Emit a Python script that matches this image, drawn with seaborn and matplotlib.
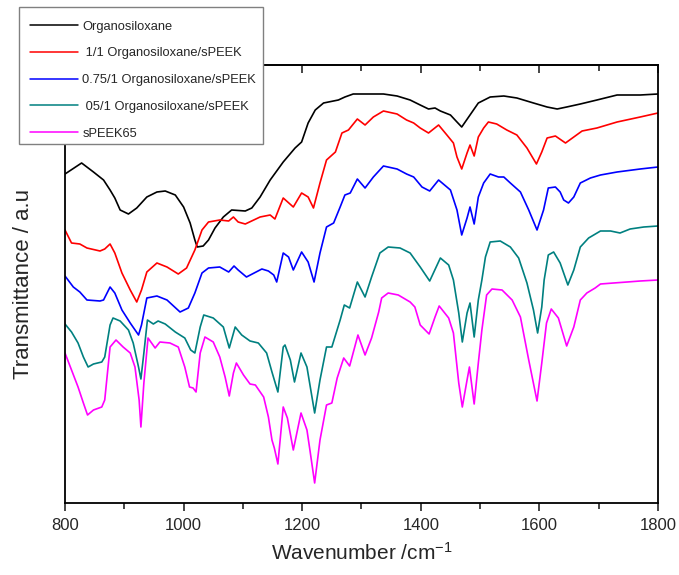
import numpy as np
import pandas as pd
import matplotlib
matplotlib.use("Agg")
import matplotlib.pyplot as plt
from matplotlib.ticker import MultipleLocator
from matplotlib.patches import Rectangle
import seaborn as sns

labels = ["Organosiloxane", " 1/1 Organosiloxane/sPEEK", "0.75/1 Organosiloxane/sPEEK",
          " 05/1 Organosiloxane/sPEEK", "sPEEK65"]
colors = ["#000000", "#FF0000", "#0000FF", "#008080", "#FF00FF"]

wn_organo = [800, 828, 848, 865, 876, 884, 893, 907, 921, 938, 955, 969, 986, 1000, 1011, 1019, 1023, 1033,
             1042, 1053, 1067, 1081, 1104, 1115, 1129, 1146, 1168, 1188, 1199, 1210, 1222, 1236, 1261, 1272,
             1286, 1315, 1337, 1360, 1382, 1399, 1413, 1424, 1433, 1450, 1461, 1469, 1483, 1497, 1517, 1540,
             1562, 1590, 1613, 1630, 1646, 1669, 1697, 1731, 1770, 1800]
t_organo = [329, 340, 331, 323, 313, 305, 293, 289, 295, 306, 311, 312, 308, 296, 280, 263, 256, 257,
            263, 275, 286, 293, 292, 295, 306, 323, 341, 355, 361, 380, 393, 400, 403, 406,
            409, 409, 409, 407, 403, 398, 394, 395, 392, 388, 381, 376, 388, 400, 406, 407,
            405, 400, 396, 394, 396, 399, 403, 408, 408, 409]

wn_11 = [800, 811, 825, 837, 859, 867, 876, 884, 896, 910, 921, 929, 938, 955, 972, 991, 1005, 1019, 1031,
         1042, 1061, 1076, 1084, 1092, 1104, 1129, 1146, 1154, 1168, 1185, 1199, 1210, 1219, 1230, 1241,
         1256, 1267, 1278, 1293, 1306, 1320, 1337, 1360, 1376, 1388, 1399, 1413, 1430, 1444, 1455, 1461,
         1469, 1478, 1483, 1490, 1497, 1506, 1514, 1528, 1545, 1562, 1579, 1595, 1604, 1613, 1627, 1644,
         1658, 1672, 1697, 1731, 1770, 1800]
t_11 = [273, 260, 259, 255, 252, 254, 259, 250, 230, 213, 201, 213, 231, 240, 236, 229, 235, 253, 273,
        281, 283, 282, 286, 281, 279, 286, 288, 284, 305, 296, 310, 306, 295, 320, 343,
        351, 370, 373, 384, 378, 386, 392, 389, 383, 380, 375, 370, 378, 368, 360, 346,
        334, 350, 358, 347, 366, 375, 381, 379, 373, 368, 355, 339, 351, 365, 367, 360,
        366, 372, 375, 381, 386, 390]

wn_075 = [800, 814, 825, 837, 859, 865, 876, 884, 896, 910, 924, 929, 938, 955, 972, 994, 1008, 1019, 1031,
          1042, 1061, 1076, 1085, 1092, 1106, 1132, 1143, 1152, 1157, 1168, 1177, 1185, 1199, 1210, 1220,
          1230, 1241, 1253, 1264, 1272, 1281, 1293, 1306, 1320, 1337, 1360, 1376, 1388, 1402, 1415, 1430,
          1450, 1461, 1469, 1478, 1483, 1490, 1497, 1506, 1517, 1531, 1540, 1551, 1568, 1582, 1596, 1607,
          1615, 1627, 1635, 1641, 1649, 1658, 1669, 1686, 1703, 1731, 1770, 1800]
t_075 = [227, 216, 211, 203, 202, 203, 216, 210, 193, 180, 168, 178, 205, 207, 203, 191, 195, 210, 230,
         235, 236, 231, 237, 233, 226, 234, 232, 228, 221, 250, 246, 233, 251, 241, 221,
         250, 276, 280, 296, 308, 310, 324, 315, 326, 337, 334, 329, 326, 316, 312, 323,
         313, 293, 268, 285, 296, 279, 306, 320, 329, 326, 326, 320, 311, 293, 273, 293,
         315, 316, 311, 303, 300, 306, 320, 325, 328, 331, 334, 336]

wn_05 = [800, 811, 822, 831, 839, 848, 862, 867, 876, 881, 893, 907, 915, 924, 928, 933, 939, 949, 957,
         969, 986, 1002, 1012, 1019, 1028, 1034, 1050, 1067, 1077, 1087, 1098, 1112, 1126, 1140, 1149,
         1159, 1168, 1171, 1180, 1187, 1198, 1208, 1221, 1230, 1241, 1250, 1264, 1271, 1280, 1293, 1306,
         1317, 1331, 1345, 1365, 1382, 1399, 1415, 1433, 1447, 1455, 1464, 1470, 1478, 1483, 1490, 1497,
         1503, 1509, 1517, 1534, 1551, 1565, 1579, 1590, 1597, 1604, 1608, 1615, 1624, 1635, 1648, 1658,
         1669, 1683, 1703, 1720, 1736, 1753, 1776, 1800]
t_05 = [179, 171, 160, 146, 136, 139, 141, 146, 178, 185, 182, 173, 160, 136, 124, 150, 183, 179, 182,
        179, 171, 165, 153, 150, 176, 188, 185, 176, 155, 176, 168, 162, 160, 150, 131,
        111, 156, 158, 143, 121, 150, 136, 90, 123, 156, 156, 183, 198, 195, 221, 206,
        226, 250, 256, 255, 250, 236, 222, 245, 238, 223, 190, 161, 190, 200, 166, 203,
        223, 246, 261, 262, 256, 245, 220, 193, 170, 196, 223, 248, 251, 240, 218, 233,
        256, 265, 272, 272, 270, 274, 276, 277]

wn_speek = [800, 811, 822, 831, 838, 848, 862, 867, 876, 886, 898, 910, 918, 925, 928, 933, 940, 952, 960,
            977, 991, 1002, 1010, 1016, 1021, 1028, 1036, 1050, 1061, 1070, 1077, 1084, 1089, 1101, 1112,
            1121, 1135, 1143, 1149, 1153, 1159, 1168, 1175, 1185, 1198, 1208, 1213, 1221, 1230, 1241, 1250,
            1259, 1270, 1280, 1294, 1306, 1317, 1329, 1334, 1345, 1362, 1382, 1390, 1399, 1414, 1424, 1431,
            1447, 1455, 1464, 1470, 1478, 1482, 1490, 1497, 1503, 1511, 1520, 1537, 1554, 1568, 1582, 1596,
            1604, 1612, 1620, 1632, 1646, 1658, 1669, 1680, 1694, 1703, 1725, 1748, 1770, 1800]
t_speek = [150, 133, 116, 100, 88, 93, 96, 103, 156, 163, 156, 150, 136, 103, 76, 120, 165, 155, 161,
           160, 156, 136, 116, 115, 111, 150, 166, 161, 146, 126, 107, 130, 140, 128, 119,
           118, 106, 86, 63, 55, 39, 96, 85, 53, 90, 73, 53, 20, 63, 98, 100,
           125, 145, 137, 168, 148, 165, 191, 205, 210, 208, 201, 196, 178, 169, 186, 197,
           185, 170, 120, 96, 123, 136, 99, 140, 173, 208, 214, 213, 203, 186, 143, 102,
           140, 180, 194, 185, 157, 176, 203, 210, 215, 219, 220, 221, 222, 223]

series = [(wn_organo, t_organo), (wn_11, t_11), (wn_075, t_075), (wn_05, t_05), (wn_speek, t_speek)]
frames = []
for lab, (w, t) in zip(labels, series):
    frames.append(pd.DataFrame({"wavenumber": w, "transmittance": t, "sample": lab}))
df = pd.concat(frames, ignore_index=True)

sns.set_style("ticks")
plt.rcParams["font.family"] = ["Liberation Sans", "DejaVu Sans"]
plt.rcParams["mathtext.fontset"] = "custom"
plt.rcParams["mathtext.rm"] = "Liberation Sans"
plt.rcParams["mathtext.it"] = "Liberation Sans"
plt.rcParams["mathtext.default"] = "regular"

W, H = 679, 575
fig = plt.figure(figsize=(W / 100, H / 100), dpi=100)
ax = fig.add_axes([65 / W, 72 / H, 593 / W, 438 / H])

sns.lineplot(data=df, x="wavenumber", y="transmittance", hue="sample", hue_order=labels,
             palette=colors, estimator=None, sort=False, linewidth=1.2, ax=ax, legend=False)

ax.set_xlim(800, 1800)
ax.set_ylim(0, 438)
ax.xaxis.set_major_locator(MultipleLocator(200))
ax.xaxis.set_minor_locator(MultipleLocator(100))
ax.set_yticks([])
ax.tick_params(axis="x", which="major", direction="out", length=6, width=1.2, labelsize=12, pad=5)
ax.tick_params(axis="x", which="minor", direction="out", length=4, width=1.2)
for s in ax.spines.values():
    s.set_linewidth(1.3)
    s.set_color("black")

sec = ax.secondary_xaxis("top")
sec.xaxis.set_major_locator(MultipleLocator(200))
sec.xaxis.set_minor_locator(MultipleLocator(100))
sec.tick_params(which="major", direction="in", length=6, width=1.2, labeltop=False)
sec.tick_params(which="minor", direction="in", length=4, width=1.2)
sec.spines["top"].set_linewidth(1.3)

ax.set_xlabel("Wavenumber /cm$^{-1}$", fontsize=15, labelpad=6)
ax.set_ylabel("Transmittance / a.u", fontsize=16, labelpad=22)

# legend box (frame drawn separately so its edges match the original)
box = Rectangle((19 / W, 1 - 144 / H), 244 / W, 137 / H, transform=fig.transFigure,
                facecolor="white", edgecolor="#808080", linewidth=1.0, zorder=9)
fig.patches.append(box)

handles = [plt.Line2D([], [], color=c, linewidth=1.1) for c in colors]
leg = fig.legend(handles, labels, loc="upper left", bbox_to_anchor=(20 / W, 1 - 11 / H),
                 bbox_transform=fig.transFigure, borderaxespad=0, fontsize=9.25, frameon=False,
                 handlelength=3.8, handletextpad=0.3, labelspacing=1.15, borderpad=0.75)
leg.set_zorder(10)

fig.savefig("out.png", dpi=100)
